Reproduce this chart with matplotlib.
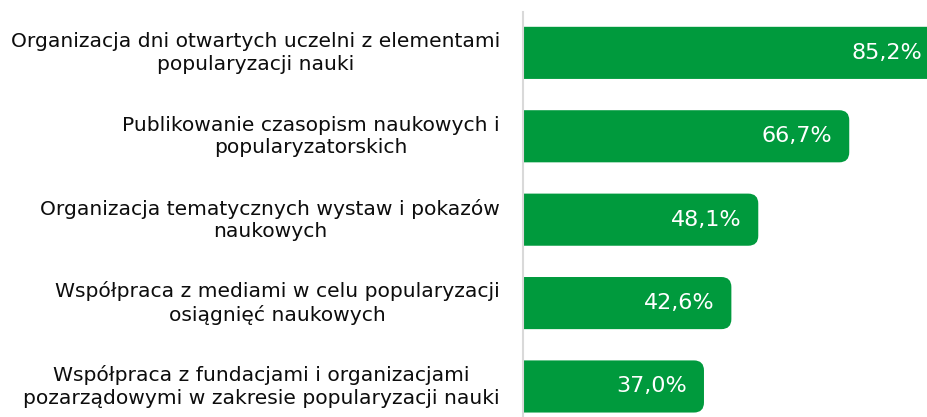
import matplotlib
matplotlib.use("Agg")
import matplotlib.pyplot as plt
from matplotlib.patches import FancyBboxPatch

categories = [
    "Organizacja dni otwartych uczelni z elementami\npopularyzacji nauki",
    "Publikowanie czasopism naukowych i\npopularyzatorskich",
    "Organizacja tematycznych wystaw i pokazów\nnaukowych",
    "Współpraca z mediami w celu popularyzacji\nosiągnięć naukowych",
    "Współpraca z fundacjami i organizacjami\npozarządowymi w zakresie popularyzacji nauki",
]
values = [85.2, 66.7, 48.1, 42.6, 37.0]
value_labels = ["85,2%", "66,7%", "48,1%", "42,6%", "37,0%"]

GREEN = "#009a3d"
plt.rcParams["font.family"] = ["DejaVu Sans"]

fig = plt.figure(figsize=(9.28, 4.17), dpi=100)
ax = fig.add_axes([523 / 928, 0, 405 / 928, 405 / 417])

ypos = list(range(len(values)))
bars = ax.barh(ypos, values, height=0.625, color=GREEN)

ax.set_xlim(0, 82.8)
ax.set_ylim(4.366, -0.49)

# swap plain rectangles for ones with rounded right corners
px_x = 405 / 82.8          # pixels per x unit
px_y = 405 / 4.856         # pixels per y unit
r = 10 / px_x
for b in bars:
    x0, y0, w, h = b.get_x(), b.get_y(), b.get_width(), b.get_height()
    b.set_visible(False)
    p = FancyBboxPatch((x0 - 5, y0), w + 5, h,
                       boxstyle=f"round,pad=0,rounding_size={r}",
                       mutation_aspect=px_x / px_y,
                       fc=GREEN, ec="none", clip_on=True)
    ax.add_patch(p)
    p.set_clip_path(ax.patch)

for y, v, lab in zip(ypos, values, value_labels):
    ax.text(v - 17 / px_x, y, lab, ha="right", va="center",
            color="white", fontsize=16)

for y, cat in zip(ypos, categories):
    ax.text(-23 / px_x, y, cat, ha="right", va="center",
            multialignment="center", fontsize=14.6, color="#0d0d0d",
            linespacing=1.22, clip_on=False)

for s in ["top", "right", "bottom"]:
    ax.spines[s].set_visible(False)
ax.spines["left"].set_color("#d9d9d9")
ax.spines["left"].set_linewidth(1.5)
ax.set_xticks([])
ax.set_yticks([])

fig.savefig("out.png", dpi=100)
